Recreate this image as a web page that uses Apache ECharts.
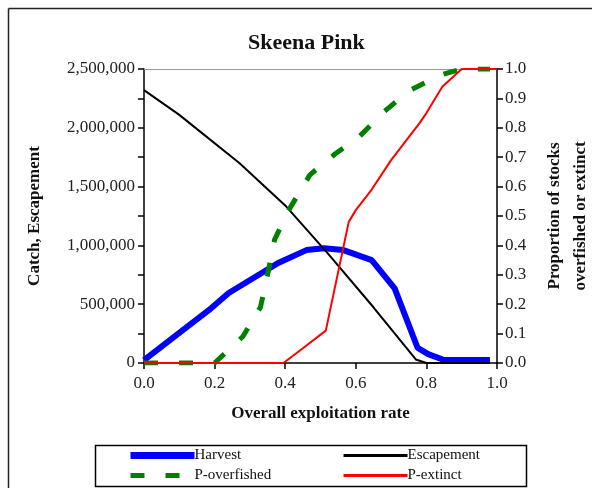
<!DOCTYPE html>
<html>
<head>
<meta charset="utf-8">
<script src="https://cdn.jsdelivr.net/npm/echarts@6/dist/echarts.min.js"></script>
<style>
  html, body { margin: 0; padding: 0; background: #fff; }
  #chart { width: 592px; height: 488px; }
</style>
</head>
<body>
<div id="chart"></div>
<script>
// Exploitation rates and model outputs for Skeena pink salmon
const harvestX = [0, 0.11, 0.19, 0.24, 0.38, 0.46, 0.51, 0.565, 0.645, 0.71, 0.775, 0.805, 0.85, 0.98];
const harvestY = [25000, 280000, 465000, 595000, 850000, 960000, 975000, 960000, 875000, 635000, 130000, 75000, 25000, 25000];

const escapementX = [0, 0.10, 0.27, 0.40, 0.52, 0.65, 0.77, 0.80, 0.98];
const escapementY = [2320000, 2110000, 1700000, 1340000, 935000, 474000, 30000, 0, 0];

const overfishedX = [0, 0.2, 0.28, 0.33, 0.35, 0.37, 0.41, 0.47, 0.54, 0.61, 0.68, 0.75, 0.84, 0.9, 0.98];
const overfishedY = [0, 0, 0.09, 0.19, 0.30, 0.42, 0.52, 0.64, 0.71, 0.77, 0.855, 0.925, 0.98, 1.0, 1.0];

const extinctX = [0, 0.395, 0.45, 0.515, 0.58, 0.60, 0.645, 0.70, 0.78, 0.80, 0.845, 0.90, 1.0];
const extinctY = [0, 0, 0.05, 0.11, 0.48, 0.52, 0.59, 0.69, 0.815, 0.85, 0.94, 1.0, 1.0];

const seriesNames = ['Harvest', 'Escapement', 'P-overfished', 'P-extinct'];

const pairs = (xs, ys) => xs.map((x, i) => [x, ys[i]]);
const withCommas = v => String(v).replace(/\B(?=(\d{3})+(?!\d))/g, ',');

const serif = '"Liberation Serif", "DejaVu Serif", serif';
const tickText = { fontFamily: serif, fontSize: 17, color: '#222' };
const nameText = { fontFamily: serif, fontSize: 17, fontWeight: 'bold', color: '#111' };

const blueLine = { color: '#0000ff', width: 6 };
const blackLine = { color: '#000', width: 2 };
const greenLine = { color: '#008000', width: 5, type: [14, 21], cap: 'butt' };
const redLine = { color: '#ff0000', width: 2 };

const axisStroke = { color: '#000', width: 1.5 };

const chart = echarts.init(document.getElementById('chart'), null, { renderer: 'canvas' });

const legendText = { fontFamily: serif, fontSize: 15, color: '#111', padding: [0, 0, 0, -5] };
const legendBase = {
  orient: 'vertical', top: 443, padding: 5,
  itemWidth: 64, itemHeight: 14, itemGap: 5,
  itemStyle: { opacity: 0 },
  textStyle: legendText,
  selectedMode: false
};

chart.setOption({
  animation: false,
  backgroundColor: '#fff',
  title: {
    text: 'Skeena Pink',
    left: 243,
    top: 27,
    textStyle: { fontFamily: serif, fontSize: 22, fontWeight: 'bold', color: '#111' }
  },
  grid: { left: 144, right: 95, top: 69, bottom: 125, containLabel: false, outerBoundsMode: 'none' },
  xAxis: [{
    type: 'value', min: 0, max: 1, interval: 0.2,
    axisLine: { show: true, onZero: false, lineStyle: axisStroke },
    axisTick: { show: true, length: 6, lineStyle: axisStroke },
    splitLine: { show: false },
    axisLabel: { ...tickText, margin: 12, formatter: v => v.toFixed(1) },
    name: 'Overall exploitation rate',
    nameLocation: 'middle', nameGap: 42,
    nameTextStyle: nameText
  }, {
    // thin grey rule closing the plot top
    type: 'value', min: 0, max: 1, position: 'top',
    axisLine: { show: true, onZero: false, lineStyle: { color: '#999', width: 1 } },
    axisTick: { show: false }, axisLabel: { show: false }, splitLine: { show: false }
  }],
  yAxis: [{
    type: 'value', min: 0, max: 2500000, interval: 500000, position: 'left',
    axisLine: { show: true, onZero: false, lineStyle: axisStroke },
    axisTick: { show: true, length: 6, lineStyle: axisStroke },
    splitLine: { show: false },
    axisLabel: { ...tickText, margin: 9, formatter: withCommas },
    name: 'Catch, Escapement',
    nameLocation: 'middle', nameGap: 101, nameRotate: 90,
    nameTextStyle: nameText
  }, {
    type: 'value', min: 0, max: 1, interval: 0.1, position: 'right',
    axisLine: { show: true, onZero: false, lineStyle: axisStroke },
    axisTick: { show: true, length: 6, lineStyle: axisStroke },
    splitLine: { show: false },
    axisLabel: { ...tickText, margin: 8, formatter: v => v.toFixed(1) },
    name: 'Proportion of stocks\noverfished or extinct',
    nameLocation: 'middle', nameGap: 45, nameRotate: 90,
    nameTextStyle: { ...nameText, lineHeight: 26 }
  }, {
    // inner half of the cross ticks on the right axis
    type: 'value', min: 0, max: 1, interval: 0.1, position: 'right',
    axisLine: { show: false },
    axisTick: { show: true, inside: true, length: 6, lineStyle: axisStroke },
    axisLabel: { show: false }, splitLine: { show: false }
  }],
  legend: [{
    ...legendBase,
    left: 122,
    data: [
      { name: 'Harvest', lineStyle: { ...blueLine, width: 7 } },
      { name: 'P-overfished', lineStyle: greenLine }
    ]
  }, {
    ...legendBase,
    left: 337,
    data: [
      { name: 'Escapement', lineStyle: { ...blackLine, width: 3 } },
      { name: 'P-extinct', lineStyle: { ...redLine, width: 3 } }
    ]
  }],
  graphic: [
    // outer frame (left and top edges)
    { type: 'line', shape: { x1: 8.5, y1: 8.5, x2: 592, y2: 8.5 }, style: { stroke: '#222', lineWidth: 1.5 } },
    { type: 'line', shape: { x1: 8.5, y1: 8.5, x2: 8.5, y2: 488 }, style: { stroke: '#222', lineWidth: 1.5 } },
    // legend box
    { type: 'rect', shape: { x: 95.5, y: 445.5, width: 431, height: 41 }, style: { fill: 'none', stroke: '#000', lineWidth: 1.5 }, z: 0 }
  ],
  series: [{
    name: seriesNames[0], type: 'line', xAxisIndex: 0, yAxisIndex: 0,
    data: pairs(harvestX, harvestY), symbol: 'none',
    lineStyle: blueLine, itemStyle: { color: blueLine.color }, z: 2
  }, {
    name: seriesNames[1], type: 'line', xAxisIndex: 0, yAxisIndex: 0,
    data: pairs(escapementX, escapementY), symbol: 'none',
    lineStyle: blackLine, itemStyle: { color: blackLine.color }, z: 3
  }, {
    name: seriesNames[2], type: 'line', xAxisIndex: 0, yAxisIndex: 1,
    data: pairs(overfishedX, overfishedY), symbol: 'none',
    lineStyle: greenLine, itemStyle: { color: greenLine.color }, z: 4
  }, {
    name: seriesNames[3], type: 'line', xAxisIndex: 0, yAxisIndex: 1,
    data: pairs(extinctX, extinctY), symbol: 'none',
    lineStyle: redLine, itemStyle: { color: redLine.color }, z: 5
  }]
});
</script>
</body>
</html>
